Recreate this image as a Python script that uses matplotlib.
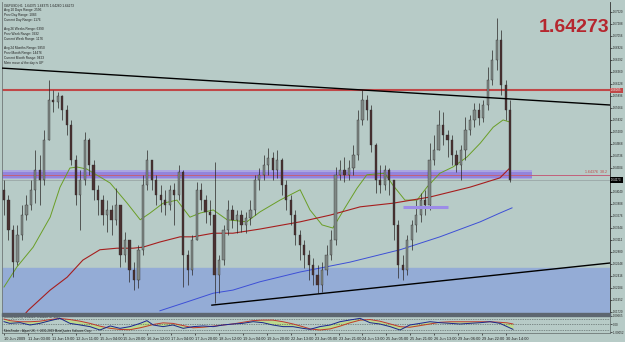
import numpy as np
import matplotlib
matplotlib.use("Agg")
import matplotlib.pyplot as plt
from matplotlib.patches import Rectangle
from matplotlib.transforms import blended_transform_factory

# GBPUSD H1 10-30 Jun 2009, squeezed into 3-hour candles; prices in pips (x 1e-4)
first_open = 16408
closes = [16388, 16330, 16268, 16320, 16359, 16379, 16408, 16446, 16427, 16504,
          16582, 16578, 16589, 16562, 16533, 16466, 16398, 16427, 16504, 16456,
          16408, 16388, 16359, 16369, 16350, 16379, 16282, 16311, 16253, 16234,
          16292, 16417, 16466, 16427, 16398, 16388, 16379, 16408, 16398, 16442,
          16282, 16253, 16311, 16408, 16388, 16365, 16359, 16243, 16272, 16330,
          16369, 16350, 16359, 16340, 16353, 16369, 16427, 16437, 16456, 16469,
          16446, 16466, 16417, 16388, 16359, 16320, 16301, 16282, 16262, 16243,
          16224, 16253, 16282, 16311, 16437, 16446, 16437, 16450, 16475, 16543,
          16582, 16562, 16495, 16427, 16417, 16446, 16427, 16340, 16262, 16253,
          16311, 16340, 16359, 16388, 16379, 16466, 16485, 16533, 16514, 16504,
          16475, 16456, 16485, 16524, 16543, 16562, 16547, 16572, 16620, 16659,
          16698, 16611, 16562, 16427]
highs = [16427, 16398, 16340, 16340, 16379, 16398, 16427, 16485, 16475, 16524,
         16620, 16601, 16597, 16591, 16572, 16543, 16475, 16446, 16520, 16508,
         16466, 16417, 16398, 16388, 16379, 16411, 16379, 16326, 16311, 16268,
         16301, 16437, 16485, 16466, 16437, 16417, 16408, 16417, 16421, 16456,
         16446, 16292, 16320, 16423, 16421, 16398, 16388, 16462, 16282, 16340,
         16388, 16379, 16369, 16369, 16365, 16388, 16437, 16450, 16475, 16489,
         16481, 16485, 16469, 16427, 16398, 16369, 16330, 16311, 16292, 16276,
         16262, 16268, 16301, 16330, 16452, 16466, 16471, 16466, 16495, 16562,
         16601, 16591, 16572, 16498, 16456, 16456, 16450, 16427, 16350, 16282,
         16320, 16350, 16388, 16402, 16408, 16498, 16514, 16562, 16558, 16524,
         16514, 16485, 16495, 16549, 16553, 16576, 16576, 16582, 16645, 16678,
         16740, 16717, 16620, 16582]
lows = [16359, 16311, 16239, 16262, 16311, 16350, 16369, 16382, 16379, 16417,
        16504, 16558, 16566, 16543, 16514, 16456, 16379, 16330, 16417, 16437,
        16388, 16359, 16340, 16326, 16320, 16340, 16259, 16268, 16230, 16214,
        16218, 16282, 16408, 16408, 16379, 16365, 16359, 16369, 16340, 16388,
        16220, 16224, 16243, 16311, 16369, 16344, 16340, 16189, 16208, 16262,
        16320, 16334, 16324, 16326, 16324, 16340, 16359, 16408, 16427, 16437,
        16427, 16431, 16398, 16369, 16340, 16301, 16272, 16257, 16234, 16224,
        16208, 16210, 16243, 16272, 16301, 16427, 16423, 16427, 16437, 16466,
        16533, 16543, 16481, 16402, 16402, 16408, 16398, 16311, 16237, 16234,
        16243, 16292, 16326, 16346, 16359, 16369, 16456, 16485, 16495, 16471,
        16456, 16442, 16427, 16466, 16514, 16529, 16533, 16539, 16562, 16611,
        16640, 16591, 16543, 16423]

# moving averages (bar index, pips)
green_x = [0, 2.9, 6.5, 10.3, 12.5, 14.7, 16.3, 18.5, 23.7, 27.5,
           30.4, 32.6, 35.5, 38.6, 41.5, 43.8, 46.7, 49.8, 54.2, 57.1,
           61.6, 66.1, 68.3, 71.0, 73.4, 76.1, 78.8, 81.0, 85.0, 86.8,
           89.5, 92.2, 94.4, 97.3, 100.2, 103.3, 106.3, 109.2, 111.4, 112.9]
green_y = [16220, 16259, 16297, 16355, 16413, 16450, 16452, 16448, 16421, 16382,
           16350, 16363, 16382, 16388, 16355, 16363, 16369, 16350, 16346, 16365,
           16388, 16408, 16369, 16340, 16334, 16373, 16411, 16437, 16440, 16417,
           16388, 16388, 16413, 16440, 16452, 16471, 16498, 16529, 16543, 16539]
red_x = [3.5, 5.4, 10.3, 14.1, 17.6, 21.4, 25.2, 28.8, 31.0, 34.8, 39.3,
         42.2, 46.7, 51.1, 57.1, 66.1, 72.8, 79.5, 86.8, 95.1, 104.0, 110.7, 112.9]
red_y = [16156, 16175, 16214, 16239, 16272, 16292, 16295, 16295, 16297, 16307, 16317,
         16317, 16324, 16324, 16332, 16346, 16359, 16375, 16382, 16394, 16413, 16431, 16450]
blue_x = [34.8, 40.8, 46.7, 51.1, 57.1, 66.1, 77.2, 88.4, 97.3, 106.3, 110.7, 113.4]
blue_y = [16174, 16191, 16208, 16214, 16230, 16249, 16268, 16292, 16317, 16346, 16363, 16373]

# levels and drawn objects
resist_level = 1.6600
fib_level = 1.64366
band_outer = (1.64288, 1.64462)
band_inner = (1.64317, 1.64414)
zone = (1.6100, 1.62567)
trend_down_x, trend_down_y = [-0.9, 135.3], [1.66435, 1.65719]
trend_up_x, trend_up_y = [46.4, 135.3], [1.61849, 1.62664]
seg_x, seg_y = [89.1, 99.1], [1.63747, 1.63747]
last_price = 1.64273

# lower indicator window
osc_x = [0, 1.3, 3.6, 5.8, 8.0, 10.3, 12.5, 14.7, 17.0, 19.2, 21.4, 23.7, 25.9, 28.1,
         30.4, 31.9, 33.3, 35.5, 37.7, 40.0, 42.2, 44.4, 46.7, 48.9, 51.1, 53.3, 55.6,
         57.8, 60.0, 62.3, 64.5, 66.7, 68.3, 70.5, 72.8, 75.0, 77.2, 79.5, 81.7, 83.9,
         86.2, 88.4, 90.6, 92.9, 95.1, 97.3, 99.6, 101.8, 104.0, 106.3, 108.5, 110.7,
         112.3, 113.6]
osc_blue = [0.51, 0.21, 0.33, -0.09, 0.21, 0.70, 1.12, 0.21, -0.09, -0.39, -1.0, -0.27,
            -0.70, -0.39, 0.21, 0.70, -0.09, -0.39, -0.09, -0.70, -0.39, -0.27, -0.39,
            -0.09, 0.09, 0.21, 0.51, 0.33, -0.09, -0.39, -0.39, -0.70, -0.88, -0.39,
            -0.09, 0.51, 0.82, 1.12, 0.33, 0.09, -0.39, -1.0, -0.09, 0.21, 0.51, 0.33,
            0.21, 0.09, 0.21, 0.33, 0.51, 0.21, -0.39, -0.88]
osc_red = [1.0, 0.7, 0.5, 0.5, 0.6, 0.9, 1.1, 0.9, 0.6, 0.2, -0.3, -0.7, -0.9, -0.95,
           -0.6, -0.3, 0.0, 0.3, 0.2, -0.2, -0.6, -0.5, -0.3, -0.1, 0.1, 0.4, 0.7, 0.8,
           0.8, 0.5, 0.1, -0.4, -0.8, -1.0, -0.8, -0.3, 0.3, 0.8, 0.9, 0.6, 0.1, -0.4,
           -0.5, -0.2, 0.1, 0.4, 0.5, 0.5, 0.5, 0.5, 0.5, 0.4, 0.3, 0.1]

time_labels = ["10 Jun 2009", "11 Jun 03:00", "11 Jun 19:00", "12 Jun 11:00", "15 Jun 04:00",
               "15 Jun 20:00", "16 Jun 12:00", "17 Jun 04:00", "17 Jun 20:00", "18 Jun 12:00",
               "19 Jun 04:00", "19 Jun 20:00", "22 Jun 13:00", "23 Jun 05:00", "23 Jun 21:00",
               "24 Jun 13:00", "25 Jun 05:00", "25 Jun 21:00", "26 Jun 13:00", "29 Jun 06:00",
               "29 Jun 22:00", "30 Jun 14:00"]
info_lines = ["GBPUSD,H1  1.64375 1.64375 1.64260 1.64273",
              "Avg 10 Days Range: 2596", "Prev Day Range: 1083", "Current Day Range: 1176", "",
              "Avg 26 Weeks Range: 6390", "Prev Week Range: 3932", "Current Week Range: 1176", "",
              "Avg 24 Months Range: 9850", "Prev Month Range: 14476", "Current Month Range: 9423",
              "Main move of the day is UP"]
# right scale: the 1.64272 slot is covered by the current-price box
price_ticks = [1.6172 + 0.00232 * k for k in range(26) if k != 11]

BG = '#b7cbc7'
FONT = 'Liberation Sans'

o = np.r_[first_open, closes[:-1]] / 1e4
c = np.array(closes) / 1e4
h = np.array(highs) / 1e4
l = np.array(lows) / 1e4
idx = np.arange(len(c))

fig = plt.figure(figsize=(6.25, 3.42), dpi=100, facecolor=BG)
ax = fig.add_axes([2/625, 29/342, 608/625, 311/342], facecolor=BG)
ax2 = fig.add_axes([2/625, 9/342, 608/625, 18/342], facecolor=BG)
fig.patches.append(Rectangle((2/625, 26.5/342), 608/625, 2.6/342, transform=fig.transFigure,
                             color='#5d6670', zorder=0))

ax.set_xlim(-0.45, 135.27)
ax.set_ylim(1.61697, 1.67711)

# zones and levels
ax.axhspan(zone[0], zone[1], color='#94acd6', zorder=0)
ax.fill_between([-1, 117.9], band_outer[0], band_outer[1], color='#aaa6e2', lw=0, zorder=1)
ax.fill_between([-1, 117.9], band_inner[0], band_inner[1], color='#9384dc', lw=0, zorder=1)
ax.axhline(fib_level, color='#c2607a', lw=0.7, zorder=2)
ax.axhline(last_price, color='#9aa6a6', lw=0.6, zorder=1)
ax.axhline(resist_level, color='#c04848', lw=1.5, zorder=2)
ax.text(134.5, fib_level + 0.0002, "1.64376  38.2", color='#c04848', fontsize=2.6,
        family=FONT, ha='right', va='bottom')

# moving averages
ax.plot(np.array(green_x), np.array(green_y) / 1e4, color='#6a9e26', lw=0.7, zorder=3)
ax.plot(np.array(red_x), np.array(red_y) / 1e4, color='#a61e1e', lw=0.8, zorder=3)
ax.plot(np.array(blue_x), np.array(blue_y) / 1e4, color='#3d4fd6', lw=0.7, zorder=3)

# candles
up = c >= o
ax.vlines(idx, l, h, color='#2a2626', lw=0.5, zorder=4)
body_lo = np.minimum(o, c)
body_h = np.maximum(np.abs(c - o), 0.00008)
ax.bar(idx[up], body_h[up], bottom=body_lo[up], width=0.5, color='#7f8885',
       edgecolor='#2a2626', lw=0.25, zorder=5)
ax.bar(idx[~up], body_h[~up], bottom=body_lo[~up], width=0.5, color='#4a3232',
       edgecolor='#2a2626', lw=0.25, zorder=5)

# trendlines
ax.plot(trend_down_x, trend_down_y, color='black', lw=1.0, zorder=6)
ax.plot(trend_up_x, trend_up_y, color='black', lw=1.0, zorder=6)
ax.plot(seg_x, seg_y, color='#9c8ce8', lw=2.2, zorder=6, solid_capstyle='butt')

# right price scale
ax.yaxis.tick_right()
ax.set_yticks(price_ticks)
ax.set_yticklabels(["%.5f" % p for p in price_ticks])
ax.tick_params(axis='y', length=1.5, width=0.5, pad=0.8, labelsize=2.1, colors='#202020')
ax.set_xticks([])
for lab in ax.get_yticklabels():
    lab.set_family(FONT)
for s in ['top', 'bottom']:
    ax.spines[s].set_visible(False)
ax.spines['left'].set_color('#707878')
ax.spines['right'].set_color('#303030')
ax.spines['left'].set_linewidth(0.6)
ax.spines['right'].set_linewidth(0.6)

tr = blended_transform_factory(ax.transAxes, ax.transData)
ax.text(1.002, resist_level, "1.66005", transform=tr, fontsize=2.1, family=FONT, color='white',
        va='center', ha='left', bbox=dict(boxstyle='square,pad=0.3', fc='#c04848', ec='none'),
        zorder=10, clip_on=False)
ax.text(1.002, last_price, "1.64273", transform=tr, fontsize=2.1, family=FONT, color='white',
        va='center', ha='left', bbox=dict(boxstyle='square,pad=0.3', fc='black', ec='none'),
        zorder=10, clip_on=False)

# info block and big price
ax.text(0.004, 0.995, "\n".join(info_lines), transform=ax.transAxes, fontsize=2.3, family=FONT,
        color='#202020', va='top', ha='left', linespacing=1.25)
fig.text(574/625, 1 - 28/342, "1.64273", color='#b5262e', fontsize=14, fontweight='bold',
         family=FONT, ha='center', va='center')

# indicator window
ax2.set_xlim(-0.45, 135.27)
ax2.set_ylim(-1.55, 1.73)
ox = np.array(osc_x)
ob = np.array(osc_blue)
orr = np.array(osc_red)
ax2.fill_between(ox, ob, orr, color='#bcd98e', lw=0, zorder=1)
for lv in [1, 0, -1]:
    ax2.axhline(lv, color='#404848', lw=0.5, ls=(0, (1, 1.5)), zorder=2)
ax2.plot(ox, orr, color='#c0392b', lw=0.7, zorder=3)
ax2.plot(ox, ob, color='#1a2590', lw=0.7, zorder=4)
ax2.text(0.004, 0.98, "SSRC(14,2,5)  0.00515  0.00133  27.2867", transform=ax2.transAxes,
         fontsize=2.2, family=FONT, va='top', ha='left', color='#202020')
ax2.text(0.004, 0.02, "MetaTrader - Alpari UK, \u00a9 2001-2009 MetaQuotes Software Corp.",
         transform=ax2.transAxes, fontsize=2.2, family=FONT, va='bottom', ha='left', color='#202020')
ax2.yaxis.tick_right()
ax2.set_yticks([1.55, 0, -1.4])
ax2.set_yticklabels(["1.00665", "0.00", "-1.00052"])
ax2.tick_params(axis='y', length=1.5, width=0.5, pad=0.8, labelsize=2.1, colors='#202020')
for lab in ax2.get_yticklabels():
    lab.set_family(FONT)

ax2.set_xticks([i * 16 / 3 for i in range(len(time_labels))])
ax2.set_xticklabels(time_labels)
ax2.tick_params(axis='x', length=1.5, width=0.5, pad=1.5, labelsize=2.8, colors='#202020')
for lab in ax2.get_xticklabels():
    lab.set_ha('left')
    lab.set_family(FONT)
for s in ['top', 'bottom', 'left', 'right']:
    ax2.spines[s].set_color('#606868')
    ax2.spines[s].set_linewidth(0.5)

fig.savefig("out.png", dpi=100, facecolor=BG)
